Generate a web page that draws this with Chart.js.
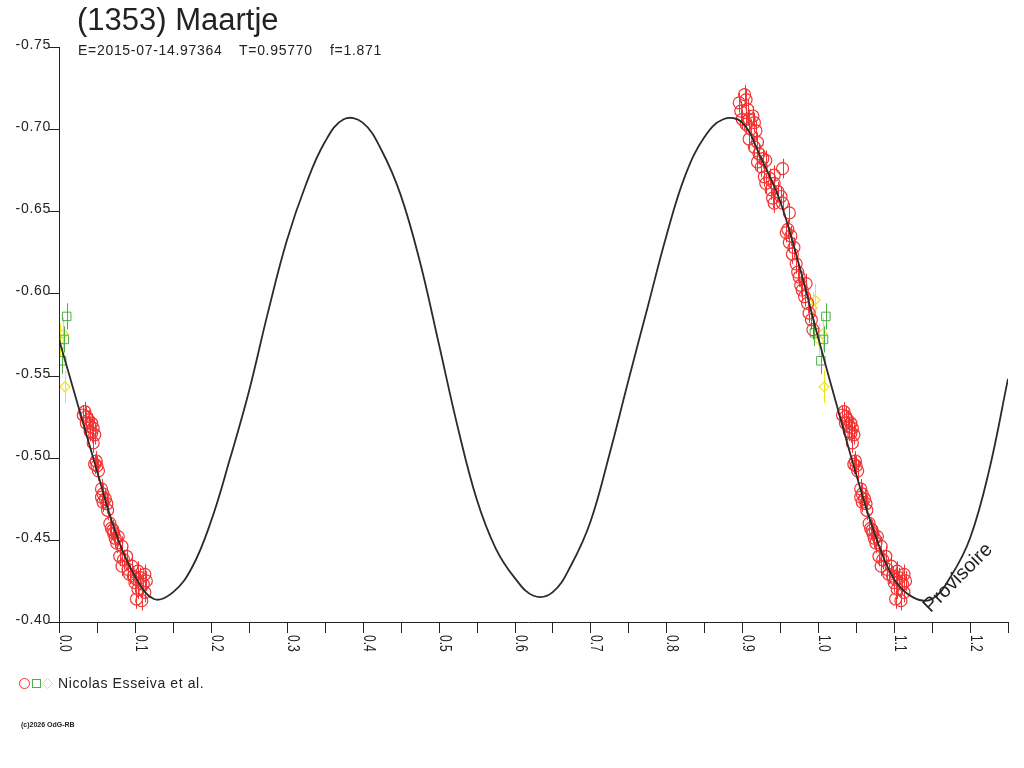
<!DOCTYPE html>
<html>
<head>
<meta charset="utf-8">
<script src="https://cdn.jsdelivr.net/npm/chart.js@4.4.1/dist/chart.umd.min.js"></script>
<style>
html, body { margin: 0; padding: 0; background: #fff; }
canvas { display: block; }
</style>
</head>
<body>
<canvas id="lc" width="1024" height="768"></canvas>
<script>
// ---- fitted curve, every 0.025 in phase (relative mag)
var fitPhase = [0.000, 0.025, 0.050, 0.075, 0.100, 0.125, 0.150, 0.175, 0.200, 0.225,
  0.250, 0.275, 0.300, 0.325, 0.350, 0.375, 0.400, 0.425, 0.450, 0.475,
  0.500, 0.525, 0.550, 0.575, 0.600, 0.625, 0.650, 0.675, 0.700, 0.725,
  0.750, 0.775, 0.800, 0.825, 0.850, 0.875, 0.900, 0.925, 0.950, 0.975,
  1.000, 1.025, 1.050, 1.075, 1.100, 1.125, 1.150, 1.175, 1.200, 1.225, 1.250];
var fitMag = [-0.572, -0.532, -0.492, -0.454, -0.428, -0.414, -0.418, -0.433, -0.461, -0.499,
  -0.540, -0.588, -0.632, -0.666, -0.692, -0.706, -0.704, -0.687, -0.660, -0.620,
  -0.570, -0.519, -0.475, -0.445, -0.427, -0.416, -0.418, -0.435, -0.461, -0.502,
  -0.547, -0.591, -0.635, -0.672, -0.695, -0.706, -0.704, -0.682, -0.656, -0.617,
  -0.573, -0.531, -0.490, -0.453, -0.426, -0.415, -0.414, -0.428, -0.451, -0.492, -0.548];

// ---- observations (phase, mag), red = circles
var redPhase = [0.032, 0.034, 0.036, 0.036, 0.039, 0.041, 0.041, 0.043, 0.043, 0.045,
  0.045, 0.047, 0.047, 0.049, 0.050, 0.052, 0.056, 0.056, 0.058, 0.058,
  0.061, 0.063, 0.064, 0.067, 0.069, 0.071, 0.072, 0.074, 0.076, 0.078,
  0.080, 0.083, 0.083, 0.085, 0.089, 0.091, 0.093, 0.096, 0.098, 0.100,
  0.102, 0.102, 0.104, 0.104, 0.107, 0.109, 0.111, 0.113, 0.113, 0.115,
  0.896, 0.898, 0.900, 0.903, 0.905, 0.905, 0.907, 0.909, 0.909, 0.911,
  0.914, 0.916, 0.916, 0.918, 0.920, 0.922, 0.920, 0.925, 0.927, 0.929,
  0.931, 0.931, 0.936, 0.938, 0.940, 0.942, 0.942, 0.942, 0.947, 0.951,
  0.953, 0.953, 0.958, 0.960, 0.962, 0.962, 0.964, 0.966, 0.968, 0.971,
  0.973, 0.975, 0.977, 0.979, 0.982, 0.984, 0.986, 0.988, 0.991, 0.993];
var redMag = [-0.526, -0.528, -0.525, -0.521, -0.523, -0.519, -0.516, -0.521, -0.515, -0.518,
  -0.509, -0.514, -0.496, -0.498, -0.495, -0.492, -0.481, -0.476, -0.478, -0.473,
  -0.475, -0.472, -0.468, -0.460, -0.457, -0.456, -0.454, -0.451, -0.448, -0.452,
  -0.440, -0.446, -0.434, -0.438, -0.440, -0.432, -0.429, -0.434, -0.428, -0.424,
  -0.426, -0.414, -0.420, -0.431, -0.427, -0.413, -0.423, -0.429, -0.418, -0.425,
  -0.716, -0.711, -0.706, -0.721, -0.718, -0.703, -0.712, -0.706, -0.694, -0.700,
  -0.708, -0.704, -0.689, -0.699, -0.692, -0.685, -0.680, -0.677, -0.682, -0.671,
  -0.681, -0.667, -0.670, -0.663, -0.658, -0.672, -0.667, -0.655, -0.662, -0.659,
  -0.676, -0.655, -0.637, -0.639, -0.649, -0.631, -0.635, -0.624, -0.628, -0.618,
  -0.613, -0.610, -0.605, -0.602, -0.598, -0.606, -0.594, -0.588, -0.584, -0.578];
var redErr = 0.006;

// green = squares, yellow = diamonds
var greenPhase = [-0.005, 0.0035, 0.007, 0.0101];
var greenMag = [-0.576, -0.559, -0.572, -0.586];
var greenErr = 0.008;
var yellowPhase = [-0.0075, -0.004, 0.0013, 0.0057, 0.0079];
var yellowMag = [-0.591, -0.596, -0.5716, -0.5753, -0.5432];
var yellowErr = 0.010;

// ---- axes
var yTicks = [-0.75, -0.70, -0.65, -0.60, -0.55, -0.50, -0.45, -0.40];
var yTickLabels = ["-0.75", "-0.70", "-0.65", "-0.60", "-0.55", "-0.50", "-0.45", "-0.40"];
var xTicks = [0.0, 0.1, 0.2, 0.3, 0.4, 0.5, 0.6, 0.7, 0.8, 0.9, 1.0, 1.1, 1.2];
var xTickLabels = ["0.0", "0.1", "0.2", "0.3", "0.4", "0.5", "0.6", "0.7", "0.8", "0.9", "1.0", "1.1", "1.2"];
var xMinorTicks = [0.05, 0.15, 0.25, 0.35, 0.45, 0.55, 0.65, 0.75, 0.85, 0.95, 1.05, 1.15, 1.25];
var xMax = 1.25;

var titleText = "(1353) Maartje";
var infoTexts = ["E=2015-07-14.97364", "T=0.95770", "f=1.871"];
var legendText = "Nicolas Esseiva et al.";
var copyText = "(c)2026 OdG-RB";
var stampText = "Provisoire";

var RED = "#f23434", GREEN = "#4fae45", YELLOW = "#f2e41c", INK = "#222";

// points repeat one cycle later, like the folded plot does
function folded(ph, mg) {
  var out = [];
  for (var i = 0; i < ph.length; i++) {
    if (ph[i] >= 0) out.push({ x: ph[i], y: mg[i] });
    if (ph[i] + 1 <= xMax) out.push({ x: ph[i] + 1, y: mg[i] });
  }
  return out;
}

var fitData = fitPhase.map(function (p, i) { return { x: p, y: fitMag[i] }; });

var errorBars = {
  id: "errorBars",
  beforeDatasetDraw: function (chart, args) {
    var ds = chart.data.datasets[args.index];
    if (!ds.errBar) return;
    var ctx = chart.ctx, x = chart.scales.x, y = chart.scales.y, a = chart.chartArea;
    ctx.save();
    ctx.beginPath();
    ctx.rect(a.left - 6, a.top, a.right - a.left + 6, a.bottom - a.top);
    ctx.clip();
    ctx.strokeStyle = ds.borderColor;
    ctx.lineWidth = 1;
    ds.data.forEach(function (d) {
      var px = Math.round(x.getPixelForValue(d.x)) + 0.5;
      ctx.beginPath();
      ctx.moveTo(px, y.getPixelForValue(d.y - ds.errBar));
      ctx.lineTo(px, y.getPixelForValue(d.y + ds.errBar));
      ctx.stroke();
    });
    ctx.restore();
  }
};

var frame = {
  id: "frame",
  afterDraw: function (chart) {
    var ctx = chart.ctx, x = chart.scales.x, y = chart.scales.y, a = chart.chartArea;
    ctx.save();
    ctx.strokeStyle = INK;
    ctx.fillStyle = INK;
    ctx.lineWidth = 1;

    // axis lines
    ctx.beginPath();
    ctx.moveTo(a.left + 0.5, a.top);
    ctx.lineTo(a.left + 0.5, a.bottom + 11);
    ctx.moveTo(a.left - 10, a.bottom + 0.5);
    ctx.lineTo(a.right, a.bottom + 0.5);
    ctx.stroke();

    // y ticks + labels
    ctx.font = "14px 'Liberation Sans', Arial, sans-serif";
    ctx.letterSpacing = "0.7px";
    ctx.textAlign = "right";
    ctx.textBaseline = "alphabetic";
    yTicks.forEach(function (v, i) {
      var py = Math.round(y.getPixelForValue(v)) + 0.5;
      ctx.beginPath();
      ctx.moveTo(a.left - 10, py);
      ctx.lineTo(a.left, py);
      ctx.stroke();
      ctx.fillText(yTickLabels[i], a.left - 8, py + 1);
    });

    // x ticks
    xTicks.concat(xMinorTicks).forEach(function (v) {
      var px = Math.round(x.getPixelForValue(v)) + 0.5;
      ctx.beginPath();
      ctx.moveTo(px, a.bottom);
      ctx.lineTo(px, a.bottom + 11);
      ctx.stroke();
    });

    // x labels, turned a quarter clockwise
    ctx.letterSpacing = "0px";
    ctx.font = "12px 'Liberation Sans', Arial, sans-serif";
    ctx.textAlign = "left";
    xTicks.forEach(function (v, i) {
      var px = x.getPixelForValue(v);
      ctx.save();
      ctx.translate(px + 1, a.bottom + 13);
      ctx.rotate(Math.PI / 2);
      ctx.scale(1, 1.3);
      ctx.fillText(xTickLabels[i], 0, 0);
      ctx.restore();
    });

    // title and info line
    ctx.font = "31px 'Liberation Sans', Arial, sans-serif";
    ctx.fillText(titleText, 77, 30);
    ctx.font = "14px 'Liberation Sans', Arial, sans-serif";
    ctx.letterSpacing = "0.7px";
    ctx.fillText(infoTexts[0], 78, 55);
    ctx.fillText(infoTexts[1], 239, 55);
    ctx.fillText(infoTexts[2], 330, 55);

    // legend
    ctx.lineWidth = 1;
    ctx.strokeStyle = RED;
    ctx.beginPath();
    ctx.arc(24.5, 683.5, 5, 0, Math.PI * 2);
    ctx.stroke();
    ctx.strokeStyle = GREEN;
    ctx.strokeRect(32.5, 679.5, 8, 8);
    ctx.strokeStyle = YELLOW;
    ctx.beginPath();
    ctx.moveTo(47.5, 678.5);
    ctx.lineTo(52.5, 683.5);
    ctx.lineTo(47.5, 688.5);
    ctx.lineTo(42.5, 683.5);
    ctx.closePath();
    ctx.stroke();
    ctx.fillStyle = INK;
    ctx.letterSpacing = "0.6px";
    ctx.fillText(legendText, 58, 688);

    // copyright
    ctx.letterSpacing = "0px";
    ctx.font = "bold 7px 'Liberation Sans', Arial, sans-serif";
    ctx.fillText(copyText, 21, 727);

    // stamp
    ctx.font = "20px 'Liberation Sans', Arial, sans-serif";
    ctx.textAlign = "center";
    ctx.textBaseline = "middle";
    ctx.translate(958, 578);
    ctx.rotate(-Math.PI / 4);
    ctx.fillText(stampText, 0, 0);
    ctx.restore();
  }
};

new Chart(document.getElementById("lc"), {
  type: "scatter",
  data: {
    datasets: [
      {
        label: "fit",
        data: fitData,
        showLine: true,
        pointRadius: 0,
        borderColor: "#2b2b2b",
        borderWidth: 1.8,
        tension: 0.4
      },
      {
        label: "red",
        data: folded(redPhase, redMag),
        errBar: redErr,
        pointStyle: "circle",
        pointRadius: 6,
        borderColor: RED,
        backgroundColor: "rgba(0,0,0,0)",
        borderWidth: 1.2
      },
      {
        label: "green",
        data: folded(greenPhase, greenMag),
        errBar: greenErr,
        pointStyle: "rect",
        pointRadius: 6,
        borderColor: GREEN,
        backgroundColor: "rgba(0,0,0,0)",
        borderWidth: 1
      },
      {
        label: "yellow",
        data: folded(yellowPhase, yellowMag),
        errBar: yellowErr,
        pointStyle: "rectRot",
        pointRadius: 5,
        borderColor: YELLOW,
        backgroundColor: "rgba(0,0,0,0)",
        borderWidth: 1.2
      }
    ]
  },
  options: {
    responsive: false,
    animation: false,
    devicePixelRatio: 1,
    layout: { padding: { left: 59, top: 47, right: 16, bottom: 146 } },
    scales: {
      x: { type: "linear", min: 0, max: xMax, display: false },
      y: { type: "linear", min: -0.75, max: -0.40, reverse: true, display: false }
    },
    plugins: {
      legend: { display: false },
      tooltip: { enabled: false }
    }
  },
  plugins: [errorBars, frame]
});
</script>
</body>
</html>
